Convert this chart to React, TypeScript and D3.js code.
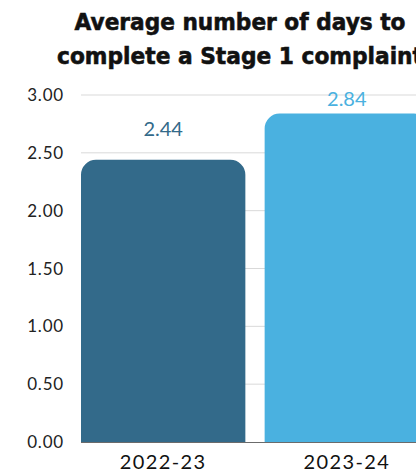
import React from "react";
import * as d3 from "d3";

const categories = ["2022-23", "2023-24"];
const values = [2.44, 2.84];
const barColors = ["#336a8a", "#4ab1e0"];
const yTicks = [0, 0.5, 1, 1.5, 2, 2.5, 3];
const titleLines = ["Average number of days to", "complete a Stage 1 complaint"];
const titleWidths = [331, 366];

const W = 416;
const H = 472;
const plotLeft = 81;
const plotRight = 429;
const plotTop = 95;
const plotBottom = 442;

function topRoundedRect(x: number, y: number, w: number, h: number, r: number) {
  const rr = Math.min(r, w / 2, h);
  const p = d3.path();
  p.moveTo(x, y + h);
  p.lineTo(x, y + rr);
  p.arcTo(x, y, x + rr, y, rr);
  p.lineTo(x + w - rr, y);
  p.arcTo(x + w, y, x + w, y + rr, rr);
  p.lineTo(x + w, y + h);
  p.closePath();
  return p.toString();
}

export default function App() {
  const x = d3.scaleBand<string>().domain(categories).range([plotLeft, plotRight]).paddingInner(0.105).paddingOuter(0);
  const y = d3.scaleLinear().domain([0, 3]).range([plotBottom, plotTop]);
  const fmt = d3.format(".2f");
  const font = "Lato, 'Open Sans', sans-serif";
  const titleFont = "'DejaVu Sans', Verdana, sans-serif";

  return (
    <div style={{ position: "absolute", left: 0, top: 0 }}>
      <svg width={W} height={H} style={{ display: "block", background: "#fff" }}>
        {titleLines.map((t, i) => (
          <text
            key={t}
            x={240}
            y={30 + i * 34}
            textAnchor="middle"
            fontFamily={titleFont}
            fontWeight={700}
            fontSize={23}
            fill="#111"
            stroke="#111"
            strokeWidth={0.6}
            textLength={titleWidths[i]}
            lengthAdjust="spacingAndGlyphs"
          >
            {t}
          </text>
        ))}
        {yTicks.map((t) => (
          <g key={t}>
            {t > 0 && <line x1={plotLeft} x2={W + 10} y1={y(t)} y2={y(t)} stroke="#d9d9d9" strokeWidth={1} />}
            <text x={64} y={y(t) + 6} textAnchor="end" fontFamily={font} fontSize={17} letterSpacing={0.8} fill="#222">
              {fmt(t)}
            </text>
          </g>
        ))}
        {categories.map((c, i) => {
          const bx = x(c)!;
          const bw = x.bandwidth();
          const by = y(values[i]);
          return (
            <g key={c}>
              <path d={topRoundedRect(bx, by, bw, plotBottom - by, 15)} fill={barColors[i]} />
              <text x={bx + bw / 2} y={Math.max(by - 24, 106)} textAnchor="middle" fontFamily={font} fontSize={20} fill={barColors[i]}>
                {values[i].toFixed(2)}
              </text>
              <text x={bx + bw / 2} y={469} textAnchor="middle" fontFamily={font} fontSize={20} letterSpacing={1.4} fill="#111">
                {c}
              </text>
            </g>
          );
        })}
        <line x1={plotLeft} x2={W + 10} y1={plotBottom + 0.5} y2={plotBottom + 0.5} stroke="#6b6b6b" strokeWidth={1} />
      </svg>
    </div>
  );
}
